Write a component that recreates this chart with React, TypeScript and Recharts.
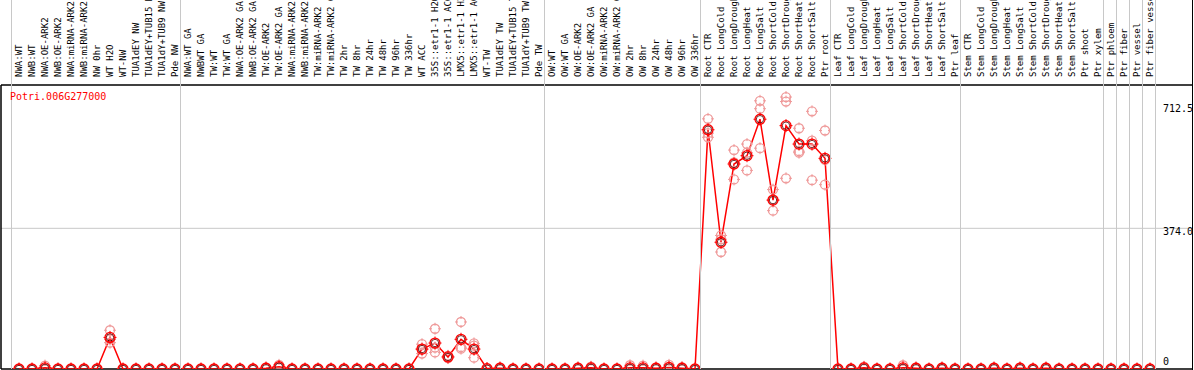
import React from 'react';
import { LineChart, Line, XAxis, YAxis, ReferenceLine } from 'recharts';

const title = 'Potri.006G277000';

const categories = [
  'NWA:WT', 'NWB:WT', 'NWA:OE-ARK2', 'NWB:OE-ARK2', 'NWA:miRNA-ARK2', 'NWB:miRNA-ARK2', 'NW 0hr', 'WT H2O', 'WT-NW', 'TUA1dEY NW',
  'TUA1dEY+TUB15 NW', 'TUA1dY+TUB9 NW', 'Pde NW', 'NWA:WT GA', 'NWBWT GA', 'TW:WT', 'TW:WT GA', 'NWA:OE-ARK2 GA', 'NWB:OE-ARK2 GA', 'TW:OE-ARK2',
  'TW:OE-ARK2 GA', 'NWA:miRNA-ARK2 GA', 'NWB:miRNA-ARK2 GA', 'TW:miRNA-ARK2', 'TW:miRNA-ARK2 GA', 'TW 2hr', 'TW 8hr', 'TW 24hr', 'TW 48hr', 'TW 96hr',
  'TW 336hr', 'WT ACC', '35S::etr1-1 H2O', '35S::etr1-1 ACC', 'LMX5::etr1-1 H2O', 'LMX5::etr1-1 ACC', 'WT-TW', 'TUA1dEY TW', 'TUA1dEY+TUB15 TW', 'TUA1dY+TUB9 TW',
  'Pde TW', 'OW:WT', 'OW:WT GA', 'OW:OE-ARK2', 'OW:OE-ARK2 GA', 'OW:miRNA-ARK2', 'OW:miRNA-ARK2 GA', 'OW 2hr', 'OW 8hr', 'OW 24hr',
  'OW 48hr', 'OW 96hr', 'OW 336hr', 'Root CTR', 'Root LongCold', 'Root LongDrought', 'Root LongHeat', 'Root LongSalt', 'Root ShortCold', 'Root ShortDrought',
  'Root ShortHeat', 'Root ShortSalt', 'Ptr root', 'Leaf CTR', 'Leaf LongCold', 'Leaf LongDrought', 'Leaf LongHeat', 'Leaf LongSalt', 'Leaf ShortCold', 'Leaf ShortDrought',
  'Leaf ShortHeat', 'Leaf ShortSalt', 'Ptr leaf', 'Stem CTR', 'Stem LongCold', 'Stem LongDrought', 'Stem LongHeat', 'Stem LongSalt', 'Stem ShortCold', 'Stem ShortDrought',
  'Stem ShortHeat', 'Stem ShortSalt', 'Ptr shoot', 'Ptr xylem', 'Ptr phloem', 'Ptr fiber', 'Ptr vessel', 'Ptr fiber vessel',
];

const meanValues = [
  0, 0, 3, 0, 0, 0, 0, 84, 0, 0,
  0, 0, 0, 0, 0, 0, 0, 0, 0, 2,
  6, 0, 0, 0, 0, 0, 0, 0, 0, 0,
  0, 53, 69, 32, 79, 53, 1, 2, 0, 0,
  0, 0, 0, 2, 3, 0, 0, 3, 3, 2,
  4, 2, 0, 636, 337, 545, 567, 664, 449, 647,
  598, 598, 560, 0, 0, 3, 0, 0, 3, 2,
  0, 2, 0, 0, 0, 2, 0, 2, 0, 2,
  0, 0, 0, 0, 0, 0, 0, 0,
];

const rep1 = [
  0, 0, 9, 0, 0, 0, 0, 103, 0, 0,
  0, 0, 0, 0, 0, 0, 0, 0, 0, 4,
  11, 0, 0, 0, 0, 0, 0, 0, 0, 0,
  0, 66, 107, 35, 125, 68, 2, 4, 0, 0,
  0, 0, 0, 4, 6, 0, 0, 10, 9, 4,
  11, 5, 0, 665, 355, 582, 598, 713, 477, 723,
  640, 685, 634, 0, 0, 6, 0, 0, 10, 4,
  0, 4, 0, 0, 0, 4, 0, 4, 0, 4,
  0, 0, 0, 0, 0, 0, 0, 0,
];

const rep2 = [
  0, 0, 0, 0, 0, 0, 0, 79, 0, 0,
  0, 0, 0, 0, 0, 0, 0, 0, 0, 1,
  4, 0, 0, 0, 0, 0, 0, 0, 0, 0,
  0, 52, 57, 32, 58, 62, 1, 1, 0, 0,
  0, 0, 0, 1, 2, 0, 0, 0, 0, 1,
  1, 1, 0, 627, 345, 549, 575, 692, 449, 711,
  579, 607, 556, 0, 0, 2, 0, 0, 0, 1,
  0, 1, 0, 0, 0, 1, 0, 1, 0, 1,
  0, 0, 0, 0, 0, 0, 0, 0,
];

const rep3 = [
  0, 0, 0, 0, 0, 0, 0, 70, 0, 0,
  0, 0, 0, 0, 0, 0, 0, 0, 0, 1,
  3, 0, 0, 0, 0, 0, 0, 0, 0, 0,
  0, 41, 44, 29, 54, 30, 0, 1, 0, 0,
  0, 0, 0, 1, 1, 0, 0, 0, 0, 1,
  0, 0, 0, 616, 311, 504, 528, 587, 421, 507,
  575, 502, 490, 0, 0, 1, 0, 0, 0, 1,
  0, 1, 0, 0, 0, 1, 0, 1, 0, 1,
  0, 0, 0, 0, 0, 0, 0, 0,
];

const yTicks = [0, 374, 712.5];
const yTickLabels = ['0', '374.0', '712.5'];
const groupEndsAfter = [12, 40, 52, 62, 72, 83, 84, 85, 86, 87];

// layout
const CHART_W = 1192;
const CHART_H = 370;
const MARGIN = { top: 0, right: 0, bottom: 1, left: 1 };
const HEADER_H = 85;
const FIRST_PX = 19;
const STEP_PX = 13;
const PLOT_LEFT = MARGIN.left;
const PLOT_RIGHT = CHART_W - MARGIN.right;
const PLOT_BOTTOM = CHART_H - MARGIN.bottom;
const X_DOMAIN: [number, number] = [(PLOT_LEFT - FIRST_PX) / STEP_PX, (PLOT_RIGHT - FIRST_PX) / STEP_PX];
const Y_DOMAIN: [number, number] = [0, 755];
const Y_LABEL_DY = [-4, 7, 11];
const Y_LABEL_X = PLOT_RIGHT - 29;

const RED = '#ff0000';
const LIGHT_RED = '#ef9a9a';
const GRID = '#c8c8c8';
const MONO = '"DejaVu Sans Mono", "Liberation Mono", monospace';

const rows = categories.map((name, i) => ({
  i,
  name,
  mean: meanValues[i],
  r1: rep1[i],
  r2: rep2[i],
  r3: rep3[i],
}));

const xTicks = categories.map((_, i) => i);

function CategoryTick(props: any) {
  const { x, payload } = props;
  const i = payload.value as number;
  const tx = x + 2.5;
  const ty = 77;
  return (
    <g>
      {i === 0 && (
        <line x1={x - 7.5} x2={x - 7.5} y1={0} y2={PLOT_BOTTOM} stroke={GRID} strokeWidth={1} />
      )}
      {groupEndsAfter.includes(i) && (
        <line x1={x + 5.5} x2={x + 5.5} y1={0} y2={PLOT_BOTTOM} stroke={GRID} strokeWidth={1} />
      )}
      <text
        x={tx}
        y={ty}
        transform={`rotate(-90 ${tx} ${ty})`}
        textAnchor="start"
        fontFamily={MONO}
        fontSize={9}
        fill="#000"
      >
        {categories[i]}
      </text>
    </g>
  );
}

function ValueTick(props: any) {
  const { y, payload } = props;
  const k = yTicks.indexOf(payload.value);
  if (k < 0) return <g />;
  return (
    <text x={Y_LABEL_X} y={y + Y_LABEL_DY[k]} textAnchor="start" fontFamily={MONO} fontSize={10} fill="#000">
      {yTickLabels[k]}
    </text>
  );
}

function Cross({ cx, cy, r, color, w }: any) {
  return (
    <g>
      <line x1={cx} x2={cx} y1={cy - r - 1.5} y2={cy - r + 1.5} stroke={color} strokeWidth={w} />
      <line x1={cx} x2={cx} y1={cy + r - 1.5} y2={cy + r + 1.5} stroke={color} strokeWidth={w} />
      <line x1={cx - r - 1.5} x2={cx - r + 1.5} y1={cy} y2={cy} stroke={color} strokeWidth={w} />
      <line x1={cx + r - 1.5} x2={cx + r + 1.5} y1={cy} y2={cy} stroke={color} strokeWidth={w} />
    </g>
  );
}

function RepDot(props: any) {
  const { cx, cy, index } = props;
  if (cx == null || cy == null) return <g key={`r-${index}`} />;
  return (
    <g key={`r-${index}`}>
      <circle cx={cx} cy={cy} r={4.5} fill="none" stroke={LIGHT_RED} strokeWidth={1.3} />
      <Cross cx={cx} cy={cy} r={4.5} color={LIGHT_RED} w={1} />
    </g>
  );
}

function MeanDot(props: any) {
  const { cx, cy, index } = props;
  if (cx == null || cy == null) return <g key={`m-${index}`} />;
  return (
    <g key={`m-${index}`}>
      <circle cx={cx} cy={cy} r={5} fill="none" stroke={RED} strokeWidth={1.3} />
      <circle cx={cx} cy={cy} r={3.7} fill="none" stroke="#400000" strokeWidth={0.8} />
      <Cross cx={cx} cy={cy} r={5} color={RED} w={1} />
    </g>
  );
}

export default function App() {
  return (
    <div
      style={{
        position: 'absolute',
        left: 0,
        top: 0,
        width: CHART_W,
        height: CHART_H,
        borderRight: '1px solid #000',
        background: '#fff',
      }}
    >
      <LineChart width={CHART_W} height={CHART_H} data={rows} margin={MARGIN}>
        <XAxis
          xAxisId="x"
          dataKey="i"
          type="number"
          orientation="top"
          domain={X_DOMAIN}
          ticks={xTicks}
          interval={0}
          height={HEADER_H}
          tick={<CategoryTick />}
          tickLine={false}
          tickSize={0}
          tickMargin={0}
          axisLine={{ stroke: '#000', strokeWidth: 1.5 }}
          allowDataOverflow
        />
        <YAxis
          yAxisId="y"
          type="number"
          orientation="right"
          mirror
          width={30}
          domain={Y_DOMAIN}
          ticks={yTicks}
          interval={0}
          tick={<ValueTick />}
          tickLine={false}
          axisLine={false}
          allowDataOverflow
        />
        <ReferenceLine xAxisId="x" yAxisId="y" y={374} stroke={GRID} strokeWidth={1} />
        <ReferenceLine xAxisId="x" yAxisId="y" y={0} stroke="#000" strokeWidth={1.5} />
        <ReferenceLine xAxisId="x" yAxisId="y" x={X_DOMAIN[0]} stroke="#000" strokeWidth={1.5} />
        <Line xAxisId="x" yAxisId="y" dataKey="r1" stroke="none" dot={RepDot} activeDot={false} isAnimationActive={false} legendType="none" />
        <Line xAxisId="x" yAxisId="y" dataKey="r2" stroke="none" dot={RepDot} activeDot={false} isAnimationActive={false} legendType="none" />
        <Line xAxisId="x" yAxisId="y" dataKey="r3" stroke="none" dot={RepDot} activeDot={false} isAnimationActive={false} legendType="none" />
        <Line
          xAxisId="x"
          yAxisId="y"
          dataKey="mean"
          type="linear"
          stroke={RED}
          strokeWidth={1.5}
          dot={MeanDot}
          activeDot={false}
          isAnimationActive={false}
          legendType="none"
        />
      </LineChart>
      <div
        style={{
          position: 'absolute',
          left: 10,
          top: 91,
          fontFamily: MONO,
          fontSize: 10,
          lineHeight: '12px',
          color: RED,
          whiteSpace: 'nowrap',
        }}
      >
        {title}
      </div>
    </div>
  );
}
